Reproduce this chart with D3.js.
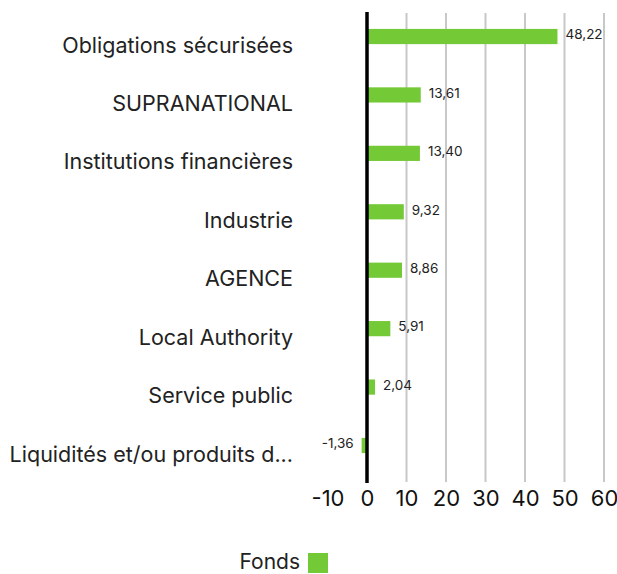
<!DOCTYPE html>
<html><head><meta charset="utf-8">
<script src="https://cdn.jsdelivr.net/npm/d3@7"></script>
<style>body{margin:0;background:#fff}svg{display:block}text{font-family:Inter,"Noto Sans",sans-serif}</style>
</head><body><svg id="c" width="617" height="574"></svg>
<script>
const categories = ["Obligations sécurisées","SUPRANATIONAL","Institutions financières","Industrie","AGENCE","Local Authority","Service public","Liquidités et/ou produits d..."];
const values = [48.22,13.61,13.40,9.32,8.86,5.91,2.04,-1.36];
const ticks = [-10,0,10,20,30,40,50,60];
const seriesName = "Fonds";
const color = "#74c936";

const svg = d3.select("#c");
const x = d3.scaleLinear().domain([-10,60]).range([327.5,604]);
const y = d3.scaleBand().domain(categories).range([7.3,474.7]).paddingInner(0.74).paddingOuter(0.37);
const fmt = v => v.toFixed(2).replace(".",",");

svg.append("g").selectAll("line").data(ticks.filter(t=>t>0)).join("line")
  .attr("x1",d=>x(d)).attr("x2",d=>x(d)).attr("y1",13).attr("y2",482)
  .attr("stroke","#c8c8c8").attr("stroke-width",2);

svg.append("g").selectAll("rect").data(values).join("rect")
  .attr("x",(d)=>x(Math.min(0,d))).attr("width",d=>Math.abs(x(d)-x(0)))
  .attr("y",(d,i)=>y(categories[i])).attr("height",y.bandwidth())
  .attr("fill",color);

svg.append("line").attr("x1",x(0)).attr("x2",x(0)).attr("y1",12).attr("y2",483)
  .attr("stroke","#000").attr("stroke-width",3.5);

svg.append("g").selectAll("text").data(values).join("text")
  .attr("x",d=>d>=0? x(d)+8 : x(d)-8)
  .attr("y",(d,i)=>y(categories[i])+y.bandwidth()/2-2)
  .attr("dy","0.35em")
  .attr("text-anchor",d=>d>=0?"start":"end")
  .attr("font-size",13.5).attr("fill","#222")
  .text(fmt);

svg.append("g").selectAll("text").data(categories).join("text")
  .attr("x",293).attr("y",d=>y(d)+y.bandwidth()/2+8.5).attr("dy","0.35em")
  .attr("text-anchor","end").attr("font-size",21.5).attr("fill","#222")
  .text(d=>d);

const ax = svg.append("g").attr("transform","translate(0,490)")
  .call(d3.axisBottom(x).tickValues(ticks).tickSize(0).tickPadding(0).tickFormat(d=>d));
ax.select(".domain").remove();
ax.selectAll("text").attr("font-size",22).attr("fill","#111").attr("dy","0.71em").attr("font-family","Inter,'Noto Sans',sans-serif");

svg.append("text").attr("x",300).attr("y",569).attr("text-anchor","end")
  .attr("font-size",21).attr("fill","#222").text(seriesName);
svg.append("rect").attr("x",308).attr("y",553).attr("width",20).attr("height",20).attr("fill",color);
</script></body></html>
